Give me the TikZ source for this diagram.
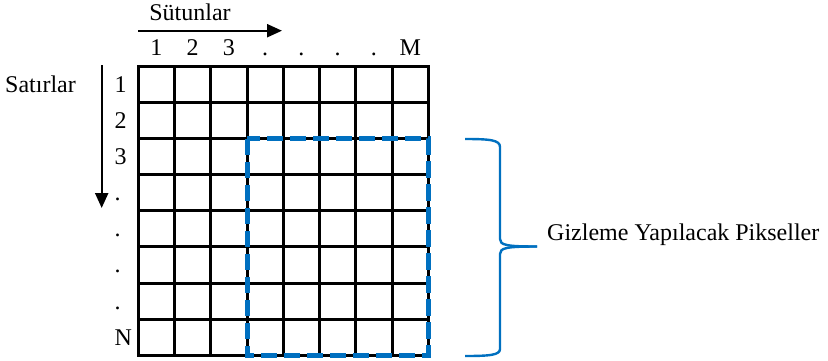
\documentclass[tikz,border=0pt]{standalone}
\usepackage{fontspec}
\setmainfont{Liberation Serif}
\usetikzlibrary{arrows.meta}
\definecolor{officeblue}{RGB}{0,112,192}
\tikzset{
  gridline/.style={line width=3pt, black, line cap=rect},
  hidebox/.style={line width=5pt, officeblue, dash pattern=on 16.5pt off 6.5pt, line cap=butt},
  bracepath/.style={line width=2.4pt, officeblue},
  axisarrow/.style={line width=2.2pt, -{Triangle[length=15pt,width=13pt]}},
  lbl/.style={inner sep=0pt, font=\fontsize{24}{26}\selectfont}
}
\begin{document}
\begin{tikzpicture}[x=1pt, y=-1pt]
\useasboundingbox (0,0) rectangle (828,360);
\fill[white] (0,0) rectangle (828,360);

% pixel grid, 8 x 8 cells
\def\gx{138.3}\def\gy{66.7}\def\cw{36.25}\def\ch{36.05}
\foreach \i in {0,...,8}{
  \draw[gridline] ({\gx+\i*\cw},\gy) -- ({\gx+\i*\cw},{\gy+8*\ch});
  \draw[gridline] (\gx,{\gy+\i*\ch}) -- ({\gx+8*\cw},{\gy+\i*\ch});
}

% region of pixels to be hidden
\draw[hidebox] ({\gx+3*\cw},{\gy+2*\ch}) rectangle ({\gx+8*\cw},{\gy+8*\ch});

% column indices
\foreach \t [count=\k from 0] in {1,2,3,.,.,.,.,M}{
  \node[lbl, anchor=base] (col\k) at ({\gx+(\k+0.5)*\cw},55) {\t};
}
% row indices
\foreach \t [count=\k from 0] in {1,2,3,.,.,.,.,N}{
  \node[lbl, anchor=base west] (row\k) at (114.5,{\gy+(\k+0.5)*\ch+8}) {\t};
}

% axis captions and arrows
\node[lbl, anchor=base] (sutun) at (190,20) {Sütunlar};
\coordinate (hs) at (138.3,30.7);
\coordinate (he) at (282,30.7);
\draw[axisarrow] (hs) -- (he);

\node[lbl, anchor=base west] (satir) at (5,92) {Satırlar};
\coordinate (vs) at (101.7,65);
\coordinate (ve) at (101.7,208);
\draw[axisarrow] (vs) -- (ve);

% curly brace and its caption
\coordinate (btop) at (465,139);
\coordinate (btip) at (537,246.5);
\coordinate (bbot) at (465,356);
\draw[bracepath] (btop) .. controls (490,139) and (500,140) .. (500,147) -- (500,239)
  .. controls (500,245) and (506,246.5) .. (btip);
\draw[bracepath] (btip) .. controls (506,246.5) and (500,248) .. (500,254) -- (500,349)
  .. controls (500,355) and (490,356) .. (bbot);
\node[lbl, anchor=base west] (gizle) at (547,240) {Gizleme Yapılacak Pikseller};
\end{tikzpicture}
\end{document}
